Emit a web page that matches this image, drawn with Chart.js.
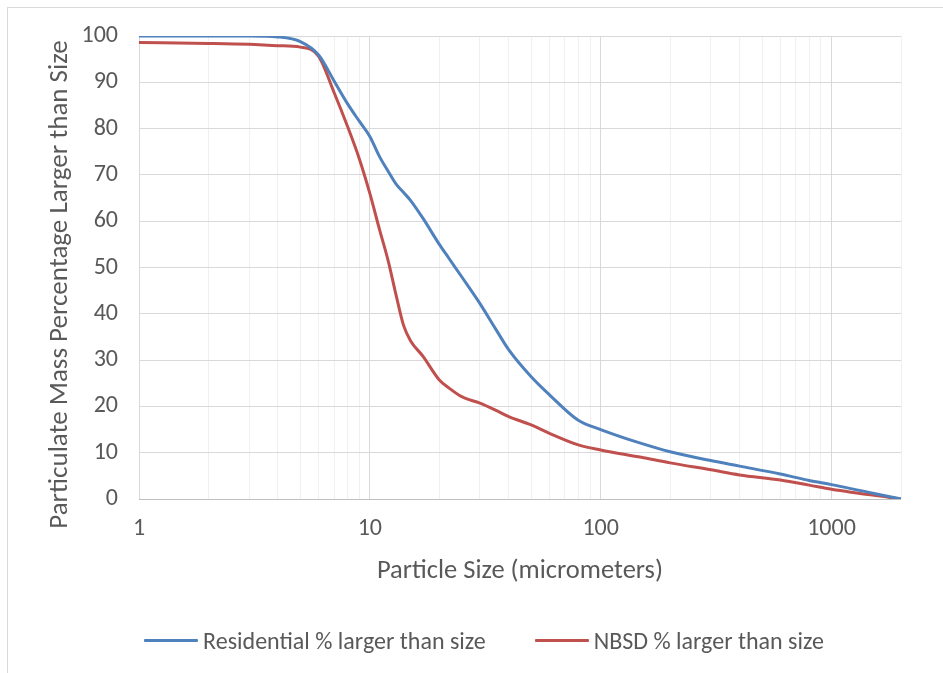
<!DOCTYPE html>
<html>
<head>
<meta charset="utf-8">
<script src="https://cdn.jsdelivr.net/npm/chart.js@4/dist/chart.umd.min.js"></script>
<style>
  body { margin: 0; background: #fff; overflow: hidden; }
  #wrap { position: relative; width: 943px; height: 673px; }
  #frame { position: absolute; left: 7px; top: 7px; width: 960px; height: 700px; border: 1px solid #d9d9d9; box-sizing: border-box; }
  #sizeChart { position: absolute; left: 0; top: 0; }
  #legend { position: absolute; left: 0; top: 626px; width: 968px; display: flex; justify-content: center; align-items: center; gap: 49px;
            font-family: Carlito, "Open Sans", sans-serif; font-size: 24px; color: #595959; }
  .item { display: flex; align-items: center; }
  .swatch { width: 54px; height: 3px; margin-right: 5px; border-radius: 1px; }
</style>
</head>
<body>
<div id="wrap">
  <div id="frame"></div>
  <canvas id="sizeChart" width="943" height="673"></canvas>
  <div id="legend"></div>
</div>
<script>
// particle size (um) and cumulative % larger than size
const sizes = [1, 2, 3, 4, 5, 6, 7, 8, 9, 10, 11, 12, 13, 14, 15, 17, 20, 22, 25, 30, 35, 40, 50, 60, 80, 100, 150, 200, 300, 400, 600, 800, 1000, 2000];
const residential = [100, 100, 100, 99.8, 98.8, 95.9, 90.3, 85.4, 81.6, 78.3, 74, 70.8, 68, 66.2, 64.5, 60.6, 55, 52, 48, 42.2, 36.8, 32.2, 26.4, 22.5, 17, 15, 12, 10.2, 8.3, 7.1, 5.4, 4, 3.1, 0];
const nbsd = [98.6, 98.4, 98.2, 97.9, 97.6, 95.6, 87.8, 80.5, 73.5, 66, 58.3, 51.5, 44, 37.5, 34.2, 30.8, 25.7, 24, 22.1, 20.7, 19.2, 17.8, 16, 14.2, 11.7, 10.6, 9, 7.8, 6.3, 5.2, 4.1, 3, 2.1, 0];

const seriesNames = ['Residential % larger than size', 'NBSD % larger than size'];
const seriesColors = ['#4f81bd', '#c0504d'];

// gridline positions on the log axis
const xTicks = [1, 2, 3, 4, 5, 6, 7, 8, 9, 10, 20, 30, 40, 50, 60, 70, 80, 90, 100, 200, 300, 400, 500, 600, 700, 800, 900, 1000, 2000];
const xLabels = [1, 10, 100, 1000];

const yTitle = 'Particulate Mass Percentage Larger than Size';

const fontFamily = 'Carlito, "Open Sans", sans-serif';
const tickFont = { family: fontFamily, size: 24 };
const titleFont = { family: fontFamily, size: 26.5 };
const textColor = '#595959';

const toPoints = vals => sizes.map((s, i) => ({ x: s, y: vals[i] }));

// y axis title, centred a little below the plot centre (over plot + x labels)
const yTitlePlugin = {
    id: 'yTitle',
    afterDraw(chart) {
        const c = chart.ctx;
        const area = chart.chartArea;
        c.save();
        c.translate(60, (area.top + area.bottom) / 2 + 17);
        c.rotate(-Math.PI / 2);
        c.font = `27px ${fontFamily}`;
        c.fillStyle = textColor;
        c.textAlign = 'center';
        c.textBaseline = 'middle';
        c.fillText(yTitle, 0, 0);
        c.restore();
    }
};

const ctx = document.getElementById('sizeChart').getContext('2d');
const sizeChart = new Chart(ctx, {
    type: 'line',
    data: {
        datasets: [residential, nbsd].map((vals, i) => ({
            label: seriesNames[i],
            data: toPoints(vals),
            borderColor: seriesColors[i],
            backgroundColor: seriesColors[i],
            borderWidth: 3,
            pointRadius: 0,
            cubicInterpolationMode: 'monotone',
            fill: false
        }))
    },
    plugins: [yTitlePlugin],
    options: {
        responsive: false,
        animation: false,
        layout: { padding: { left: 40, right: 42, top: 36, bottom: 79 } },
        plugins: { legend: { display: false }, tooltip: { enabled: false } },
        scales: {
            x: {
                type: 'logarithmic',
                min: 1,
                max: 2000,
                afterBuildTicks: scale => {
                    scale.ticks = xTicks.map(v => ({ value: v }));
                },
                afterFit: scale => { scale.height = 95; },
                ticks: {
                    autoSkip: false,
                    maxRotation: 0,
                    padding: 16,
                    color: textColor,
                    font: tickFont,
                    callback: v => xLabels.includes(v) ? String(v) : ''
                },
                grid: {
                    drawTicks: false,
                    color: c => (c.tick && xLabels.includes(c.tick.value)) ? '#d9d9d9' : '#f0f0f0'
                },
                border: { display: false },
                title: {
                    display: true,
                    text: 'Particle Size (micrometers)',
                    color: textColor,
                    font: titleFont,
                    padding: { top: 0, bottom: 7 }
                }
            },
            y: {
                min: 0,
                max: 100,
                afterFit: scale => { scale.width = 99; },
                ticks: { stepSize: 10, padding: 21, color: textColor, font: tickFont },
                grid: {
                    drawTicks: false,
                    color: c => c.tick && c.tick.value === 0 ? '#bfbfbf' : '#d9d9d9'
                },
                border: { display: false },
                title: { display: false }
            }
        }
    }
});

// legend below the plot
const legendDiv = document.getElementById('legend');
seriesNames.forEach((name, i) => {
    const item = document.createElement('div');
    item.className = 'item';
    item.innerHTML = `<span class="swatch" style="background:${seriesColors[i]}"></span><span>${name}</span>`;
    legendDiv.appendChild(item);
});
</script>
</body>
</html>
